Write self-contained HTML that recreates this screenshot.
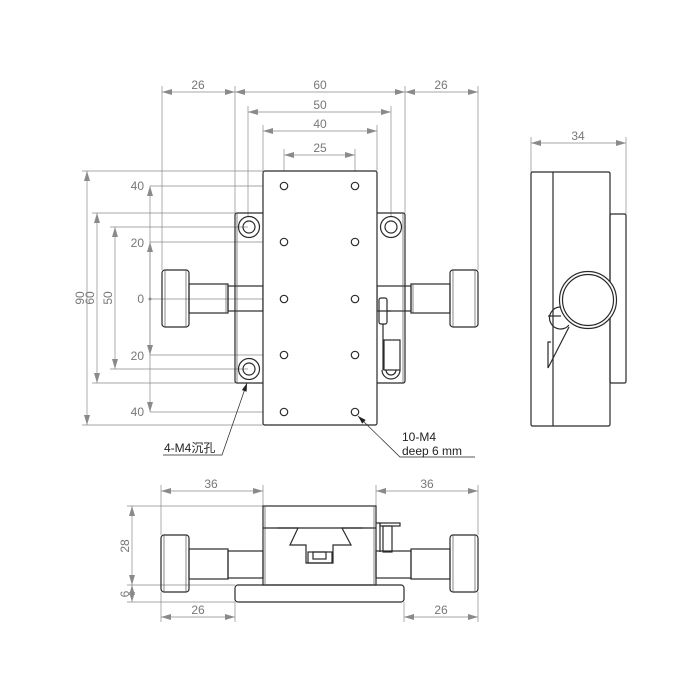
<!DOCTYPE html>
<html><head><style>
html,body{margin:0;padding:0;background:#fff;}
svg{display:block;}
.o{fill:none;stroke:#2a2a2a;stroke-width:1.2;}
.t{fill:none;stroke:#555;stroke-width:0.7;}
.d{fill:none;stroke:#8a8a8a;stroke-width:0.7;}
.a{fill:#8a8a8a;}
text{font-family:"Liberation Sans","Noto Sans CJK SC",sans-serif;font-size:12px;fill:#777;}
.k{fill:#222;}
</style></head><body>
<svg width="700" height="700" viewBox="0 0 700 700" xmlns="http://www.w3.org/2000/svg">
<defs>
<marker id="m" viewBox="0 0 10 6" refX="10" refY="3" markerWidth="10" markerHeight="6" orient="auto-start-reverse" markerUnits="userSpaceOnUse"><path d="M0,0 L10,3 L0,6 z" fill="#8a8a8a"/></marker>
<marker id="mk" viewBox="0 0 10 6" refX="10" refY="3" markerWidth="9" markerHeight="5" orient="auto-start-reverse" markerUnits="userSpaceOnUse"><path d="M0,0 L10,3 L0,6 z" fill="#222"/></marker>
</defs>

<!-- ===== TOP VIEW ===== -->
<!-- dimension extension lines -->
<g class="d">
<line x1="162" y1="86" x2="162" y2="270"/>
<line x1="235" y1="86" x2="235" y2="213"/>
<line x1="405" y1="86" x2="405" y2="213"/>
<line x1="478" y1="86" x2="478" y2="270"/>
<line x1="248" y1="106" x2="248" y2="216"/>
<line x1="391" y1="106" x2="391" y2="216"/>
<line x1="263" y1="125" x2="263" y2="171"/>
<line x1="377" y1="125" x2="377" y2="171"/>
<line x1="284" y1="149" x2="284" y2="182"/>
<line x1="355" y1="149" x2="355" y2="182"/>
<!-- dims -->
<line x1="162" y1="92" x2="235" y2="92" marker-start="url(#m)" marker-end="url(#m)"/>
<line x1="235" y1="92" x2="405" y2="92" marker-start="url(#m)" marker-end="url(#m)"/>
<line x1="405" y1="92" x2="478" y2="92" marker-start="url(#m)" marker-end="url(#m)"/>
<line x1="248" y1="112" x2="391" y2="112" marker-start="url(#m)" marker-end="url(#m)"/>
<line x1="263" y1="131" x2="377" y2="131" marker-start="url(#m)" marker-end="url(#m)"/>
<line x1="284" y1="155" x2="355" y2="155" marker-start="url(#m)" marker-end="url(#m)"/>
<!-- left vertical dims -->
<line x1="82" y1="171" x2="263" y2="171"/>
<line x1="82" y1="425" x2="263" y2="425"/>
<line x1="92" y1="213" x2="235" y2="213"/>
<line x1="92" y1="383" x2="235" y2="383"/>
<line x1="110" y1="227" x2="248" y2="227"/>
<line x1="110" y1="369" x2="248" y2="369"/>
<line x1="87" y1="171" x2="87" y2="425" marker-start="url(#m)" marker-end="url(#m)"/>
<line x1="97" y1="213" x2="97" y2="383" marker-start="url(#m)" marker-end="url(#m)"/>
<line x1="115" y1="227" x2="115" y2="369" marker-start="url(#m)" marker-end="url(#m)"/>
<line x1="150" y1="186" x2="284" y2="186"/>
<line x1="150" y1="242" x2="284" y2="242"/>
<line x1="150" y1="299" x2="284" y2="299"/>
<line x1="150" y1="355" x2="284" y2="355"/>
<line x1="150" y1="412" x2="284" y2="412"/>
<line x1="150" y1="299" x2="150" y2="186" marker-end="url(#m)"/>
<line x1="150" y1="299" x2="150" y2="242" marker-end="url(#m)"/>
<line x1="150" y1="299" x2="150" y2="355" marker-end="url(#m)"/>
<line x1="150" y1="299" x2="150" y2="412" marker-end="url(#m)"/>
</g>
<circle cx="150" cy="299" r="1.5" class="a"/>
<text x="198" y="89" text-anchor="middle">26</text>
<text x="320" y="89" text-anchor="middle">60</text>
<text x="441" y="89" text-anchor="middle">26</text>
<text x="320" y="109" text-anchor="middle">50</text>
<text x="320" y="128" text-anchor="middle">40</text>
<text x="320" y="152" text-anchor="middle">25</text>
<text x="144" y="190" text-anchor="end">40</text>
<text x="144" y="247" text-anchor="end">20</text>
<text x="144" y="303" text-anchor="end">0</text>
<text x="144" y="360" text-anchor="end">20</text>
<text x="144" y="416" text-anchor="end">40</text>
<text transform="translate(84,298) rotate(-90)" text-anchor="middle">90</text>
<text transform="translate(94,298) rotate(-90)" text-anchor="middle">60</text>
<text transform="translate(112,298) rotate(-90)" text-anchor="middle">50</text>

<!-- knobs & shafts -->
<g class="o">
<rect x="162" y="270" width="27" height="57" rx="3"/>
<rect x="189" y="284" width="39" height="29"/>
<rect x="228" y="286" width="35" height="25"/>
<rect x="450" y="270" width="28" height="57" rx="3"/>
<rect x="411" y="284" width="39" height="29"/>
<rect x="377" y="286" width="34" height="25"/>
<!-- base plate -->
<rect x="235" y="213" width="170" height="170" rx="2"/>
<!-- carriage -->
<rect x="263" y="171" width="114" height="254" rx="2" fill="#fff"/>
</g>
<line x1="165" y1="270" x2="165" y2="327" class="t"/>
<line x1="186" y1="270" x2="186" y2="327" class="t"/>
<line x1="453" y1="270" x2="453" y2="327" class="t"/>
<line x1="475" y1="270" x2="475" y2="327" class="t"/>
<line x1="226" y1="284" x2="226" y2="313" class="t"/>
<line x1="413" y1="284" x2="413" y2="313" class="t"/>
<line x1="237" y1="213" x2="237" y2="383" class="t"/>
<line x1="403" y1="213" x2="403" y2="383" class="t"/>
<!-- counterbores -->
<g class="o">
<circle cx="249" cy="227" r="10.5"/><circle cx="249" cy="227" r="6"/>
<circle cx="391" cy="227" r="10.5"/><circle cx="391" cy="227" r="6"/>
<circle cx="249" cy="369" r="10.5"/><circle cx="249" cy="369" r="6"/>
</g>
<!-- holes -->
<g class="o">
<circle cx="284" cy="186" r="3.7"/><circle cx="355" cy="186" r="3.7"/>
<circle cx="284" cy="242" r="3.7"/><circle cx="355" cy="242" r="3.7"/>
<circle cx="284" cy="299" r="3.7"/><circle cx="355" cy="299" r="3.7"/>
<circle cx="284" cy="355" r="3.7"/><circle cx="355" cy="355" r="3.7"/>
<circle cx="284" cy="412" r="3.7"/><circle cx="355" cy="412" r="3.7"/>
</g>
<!-- right clamp detail -->
<g class="o" stroke-width="1">
<rect x="379" y="298" width="8" height="26" rx="2"/>
<line x1="387" y1="311" x2="391" y2="311"/>
<line x1="383" y1="324" x2="383" y2="370"/>
<rect x="384" y="340" width="16" height="30"/>
<path d="M382,370 A9,9 0 1 0 400,370"/>
<path d="M386,370 A5,5 0 1 0 396,370"/>
</g>
<!-- leaders -->
<g fill="none" stroke="#222" stroke-width="0.7">
<polyline points="163,455 222,455 247,383" marker-end="url(#mk)"/>
<polyline points="475,457 400,457 358,416" marker-end="url(#mk)"/>
</g>
<text x="164" y="452" class="k">4-M4沉孔</text>
<text x="402" y="441" class="k">10-M4</text>
<text x="402" y="455" class="k">deep 6 mm</text>

<!-- ===== SIDE VIEW ===== -->
<g class="d">
<line x1="531" y1="137" x2="531" y2="172"/>
<line x1="626" y1="137" x2="626" y2="214"/>
<line x1="531" y1="143" x2="626" y2="143" marker-start="url(#m)" marker-end="url(#m)"/>
</g>
<text x="578" y="140" text-anchor="middle">34</text>
<g class="o">
<rect x="610" y="214" width="16" height="169" rx="1.5"/>
<rect x="531" y="172" width="79" height="254" rx="1.5"/>
<line x1="553" y1="172" x2="553" y2="426"/>
<path d="M560,307 A11,11 0 1 0 569,325"/>
<line x1="548" y1="316" x2="561" y2="316"/>
<polyline points="569,327 548,368 548,342 551,342"/>
<circle cx="588" cy="300" r="28.5" fill="#fff"/>
<circle cx="588" cy="300" r="25.5"/>
</g>

<!-- ===== FRONT VIEW ===== -->
<g class="d">
<line x1="161" y1="485" x2="161" y2="535"/>
<line x1="263" y1="485" x2="263" y2="506"/>
<line x1="376" y1="485" x2="376" y2="506"/>
<line x1="478" y1="485" x2="478" y2="535"/>
<line x1="161" y1="491" x2="263" y2="491" marker-start="url(#m)" marker-end="url(#m)"/>
<line x1="376" y1="491" x2="478" y2="491" marker-start="url(#m)" marker-end="url(#m)"/>
<line x1="127" y1="506" x2="263" y2="506"/>
<line x1="127" y1="585" x2="235" y2="585"/>
<line x1="127" y1="602" x2="235" y2="602"/>
<line x1="132" y1="506" x2="132" y2="585" marker-start="url(#m)" marker-end="url(#m)"/>
<line x1="132" y1="585" x2="132" y2="602" marker-start="url(#m)" marker-end="url(#m)"/>
<line x1="161" y1="592" x2="161" y2="622"/>
<line x1="235" y1="602" x2="235" y2="622"/>
<line x1="404" y1="602" x2="404" y2="622"/>
<line x1="478" y1="592" x2="478" y2="622"/>
<line x1="161" y1="617" x2="235" y2="617" marker-start="url(#m)" marker-end="url(#m)"/>
<line x1="404" y1="617" x2="478" y2="617" marker-start="url(#m)" marker-end="url(#m)"/>
</g>
<text x="211" y="488" text-anchor="middle">36</text>
<text x="427" y="488" text-anchor="middle">36</text>
<text transform="translate(129,546) rotate(-90)" text-anchor="middle">28</text>
<text transform="translate(129,594) rotate(-90)" text-anchor="middle">6</text>
<text x="198" y="614" text-anchor="middle">26</text>
<text x="441" y="614" text-anchor="middle">26</text>
<g class="o">
<rect x="161" y="535" width="28" height="57" rx="3"/>
<rect x="189" y="549" width="39" height="30"/>
<rect x="228" y="551" width="35" height="27"/>
<rect x="450" y="535" width="28" height="57" rx="3"/>
<rect x="411" y="549" width="39" height="30"/>
<rect x="376" y="551" width="35" height="27"/>
<rect x="235" y="585" width="169" height="17" rx="3"/>
<rect x="263" y="506" width="113" height="79"/>
<line x1="263" y1="528" x2="376" y2="528"/>
<polyline points="277,528 298,528 290,545 306,545 306,563 333,563 333,545 351,545 342,528 363,528"/>
<rect x="308" y="552" width="24" height="11"/>
<rect x="313" y="552" width="13" height="7"/>
<polyline points="376,523 380,523 380,552"/>
<rect x="380" y="523" width="20" height="3"/>
<rect x="383" y="526" width="9" height="26"/>
</g>
<line x1="265" y1="506" x2="265" y2="585" class="t"/>
<line x1="374" y1="506" x2="374" y2="585" class="t"/>
<line x1="164" y1="535" x2="164" y2="592" class="t"/>
<line x1="186" y1="535" x2="186" y2="592" class="t"/>
<line x1="453" y1="535" x2="453" y2="592" class="t"/>
<line x1="475" y1="535" x2="475" y2="592" class="t"/>
</svg>
</body></html>
